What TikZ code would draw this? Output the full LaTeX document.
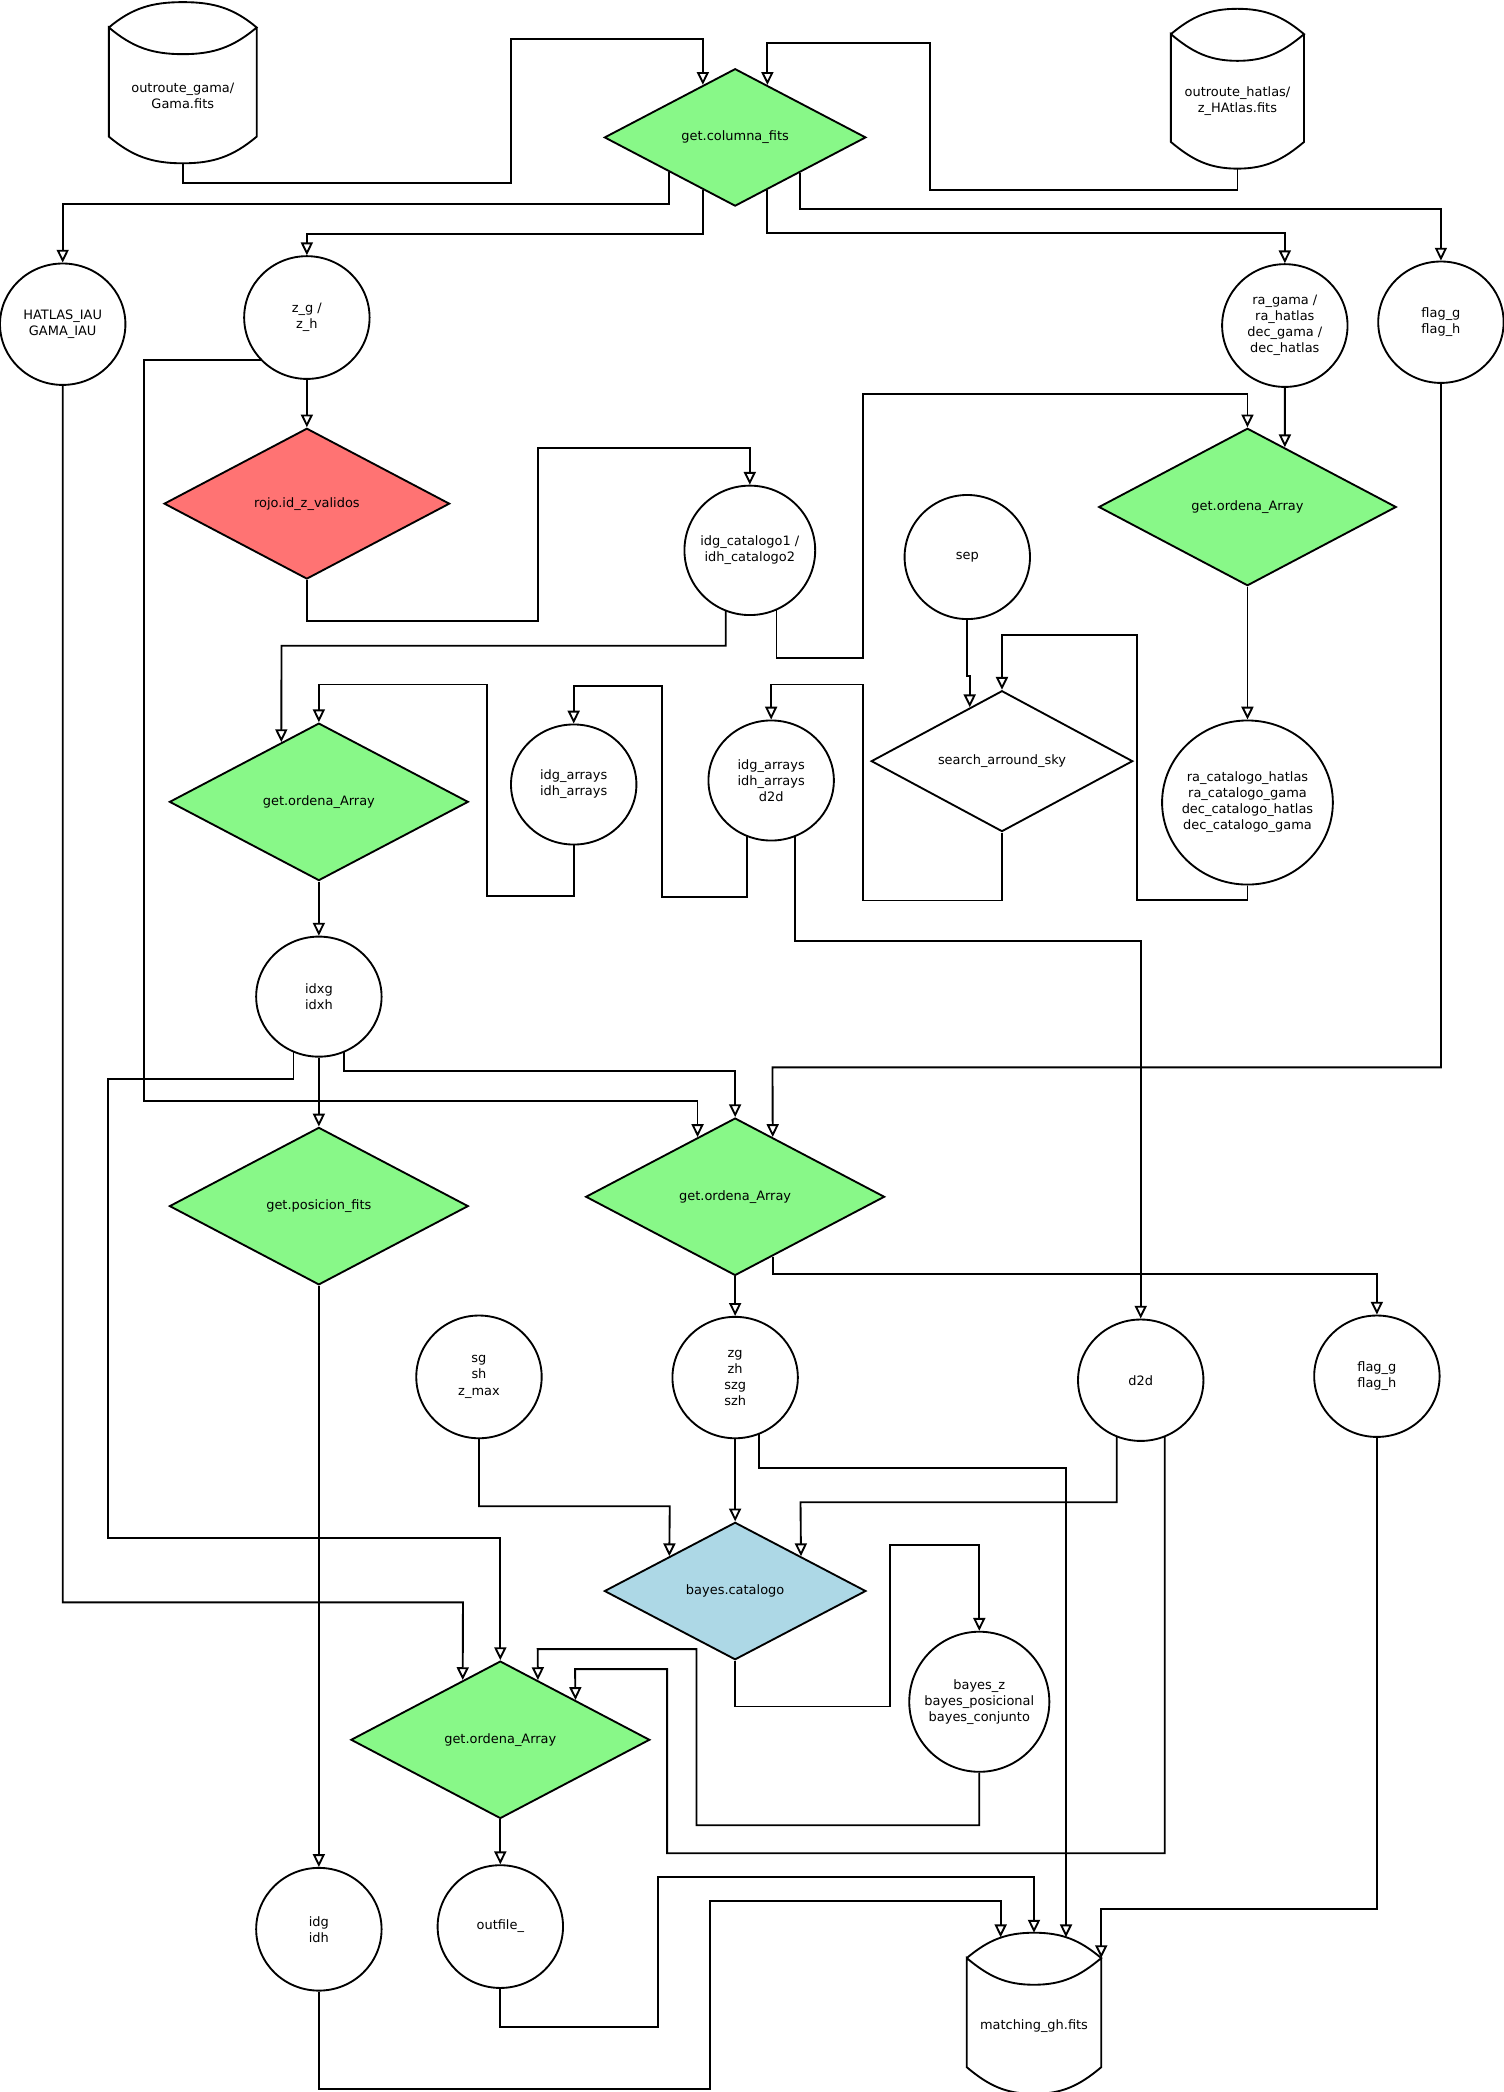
\documentclass[tikz,border=0pt]{standalone}
\usepackage{fontspec}
\setmainfont{DejaVu Sans}
\usetikzlibrary{arrows.meta,calc,shapes.geometric,backgrounds}

\definecolor{fngreen}{RGB}{136,248,136}
\definecolor{fnred}{RGB}{255,115,115}
\definecolor{fnblue}{RGB}{173,216,230}

% outline of a data file drawn round a db node
\newcommand{\dbdraw}[1]{%
  \draw[dbline] ([yshift=10pt]#1.north west) coordinate (#1-tl)
    to[out=40,in=180] ([yshift=19.5pt]#1.north)
    to[out=0,in=140] ([yshift=10pt]#1.north east) coordinate (#1-tr)
    to[out=-140,in=0] (#1.north)
    to[out=180,in=-40] (#1-tl) -- (#1.south west)
    to[out=-40,in=180] ([yshift=-10pt]#1.south)
    to[out=0,in=-140] (#1.south east) -- (#1-tr);}

\begin{document}
\begin{tikzpicture}[
  x=0.5pt, y=-0.5pt,
  every node/.style={font=\fontsize{4.85pt}{6pt}\selectfont, align=center, inner sep=0pt},
  var/.style={draw, ellipse, fill=white, line width=0.7pt, inner xsep=-6pt, minimum width=47pt, minimum height=45.5pt},
  func/.style={draw, diamond, fill=fngreen, line width=0.7pt, minimum width=112pt, minimum height=59pt},
  smallfunc/.style={func, minimum width=98pt, minimum height=51.5pt},
  db/.style={minimum width=50pt, minimum height=30.5pt},
  dbline/.style={line width=0.7pt},
  arr/.style={-{Triangle[open, length=4.8pt, width=4.5pt]}, line width=0.7pt}
]
  \useasboundingbox (0,0) rectangle (1127,1568);

  % data files
  \node[db, minimum width=55pt] (gama) at (137,71.5) {outroute\_gama/\\Gama.fits};
  \node[db, minimum width=49.5pt, minimum height=30pt] (hatlas) at (927.5,76) {outroute\_hatlas/\\z\_HAtlas.fits};
  \node[db] (match) at (775,1518.5) {matching\_gh.fits};
  \dbdraw{gama}
  \dbdraw{hatlas}
  \dbdraw{match}

  % functions
  \node[smallfunc] (col) at (551,103) {get.columna\_fits};
  \node[func, fill=fnred, minimum width=107pt, minimum height=56.5pt] (rojo) at (230,377.5) {rojo.id\_z\_validos};
  \node[func, minimum width=111.5pt] (ordA) at (935,380) {get.ordena\_Array};
  \node[func] (ordB) at (239,601) {get.ordena\_Array};
  \node[smallfunc, fill=white] (sas) at (751,570.5) {search\_arround\_sky};
  \node[func] (pos) at (239,904) {get.posicion\_fits};
  \node[func] (ordC) at (551,897) {get.ordena\_Array};
  \node[smallfunc, fill=fnblue] (bayes) at (551,1192.5) {bayes.catalogo};
  \node[func] (ordD) at (375,1304) {get.ordena\_Array};

  % variables
  \node[var] (iau) at (47,243) {HATLAS\_IAU\\GAMA\_IAU};
  \node[var, minimum height=46pt] (zgh) at (230,238) {z\_g /\\z\_h};
  \node[var, minimum height=46pt] (radec) at (963,244) {ra\_gama /\\ra\_hatlas\\dec\_gama /\\dec\_hatlas};
  \node[var] (flagA) at (1080,241.5) {flag\_g\\flag\_h};
  \node[var, minimum width=49pt, minimum height=48.5pt] (idcat) at (562,412.5) {idg\_catalogo1 /\\idh\_catalogo2};
  \node[var, minimum height=46.5pt] (sep) at (725,417.5) {sep};
  \node[var, minimum height=45pt] (idarr) at (430,588) {idg\_arrays\\idh\_arrays};
  \node[var, minimum height=45pt] (idd2d) at (578,585) {idg\_arrays\\idh\_arrays\\d2d};
  \node[var, minimum width=64pt, minimum height=61.5pt] (racat) at (935,601.5) {ra\_catalogo\_hatlas\\ra\_catalogo\_gama\\dec\_catalogo\_hatlas\\dec\_catalogo\_gama};
  \node[var, minimum height=45pt] (idx) at (239,747) {idxg\\idxh};
  \node[var, minimum height=46pt] (sg) at (359,1032) {sg\\sh\\z\_max};
  \node[var] (zg) at (551,1032.5) {zg\\zh\\szg\\szh};
  \node[var] (d2d) at (855,1034.5) {d2d};
  \node[var] (flagB) at (1032,1031.5) {flag\_g\\flag\_h};
  \node[var, minimum width=52.5pt, minimum height=52.5pt] (bayesout) at (734,1275.5) {bayes\_z\\bayes\_posicional\\bayes\_conjunto};
  \node[var, minimum height=46pt] (idgh) at (239,1446) {idg\\idh};
  \node[var, minimum height=46pt] (outf) at (375,1444) {outfile\_};

  % connectors
  \begin{scope}[on background layer]
    \draw[arr] ([yshift=-10pt]gama.south) -- ++(0,15) -| (383,29) -| ($(col.north)!0.245!(col.west)$);
    \draw[arr] ([yshift=-10pt]hatlas.south) -- ++(0,16) -| (697,32) -| ($(col.north)!0.245!(col.east)$);
    \draw[arr] ($(col.south)!0.5!(col.west)$) -- ++(0,24) -| (iau);
    \draw[arr] ($(col.south)!0.245!(col.west)$) -- ++(0,33) -| (zgh);
    \draw[arr] ($(col.south)!0.245!(col.east)$) -- ++(0,32) -| (radec);
    \draw[arr] ($(col.south)!0.49!(col.east)$) -- ++(0,27) -| (flagA);
    \draw[arr] (zgh) -- (rojo);
    \draw[arr] ($(zgh.center)+(-20,32)$) -| (108,825) -| ($(ordC.north)!0.25!(ordC.west)$);
    \draw[arr] (rojo.south) -- ++(0,31) -| (403,336) -| (idcat);
    \draw[arr] ($(idcat.center)+(-18,0)$) |- (211,484) -- ($(ordB.north)!0.25!(ordB.west)$);
    \draw[arr] ($(idcat.center)+(20,0)$) |- (647,493) |- (935,295) -- (ordA);
    \draw[arr] (radec) -- ($(ordA.north)!0.25!(ordA.east)$);
    \draw[arr] (ordA) -- (racat);
    \draw[arr] (sep.south) -- ++(0,42) -| ($(sas.north)!0.245!(sas.west)$);
    \draw[arr] (racat.south) -- ++(0,11) -| (852,476) -| (sas);
    \draw[arr] (sas.south) -- ++(0,51) -| (647,513) -| (idd2d);
    \draw[arr] ($(idd2d.center)+(-18,0)$) |- (496,672) |- (430,514) -- (idarr);
    \draw[arr] (idarr.south) -- ++(0,38) -| (365,513) -| (ordB);
    \draw[arr] ($(idd2d.center)+(18,0)$) |- (855,705) -- (d2d);
    \draw[arr] (ordB) -- (idx);
    \draw[arr] (flagA.south) |- (579,800) -- ($(ordC.north)!0.25!(ordC.east)$);
    \draw[arr] ($(idx.center)+(19,0)$) |- (551,803) -- (ordC);
    \draw[arr] (idx) -- (pos);
    \draw[arr] ($(idx.center)+(-19,0)$) |- (81,809) |- (375,1153) -- (ordD);
    \draw[arr] (iau.south) |- (347,1201) -- ($(ordD.north)!0.25!(ordD.west)$);
    \draw[arr] (pos) -- (idgh);
    \draw[arr] ($(ordC.south)!0.25!(ordC.east)$) |- (1032,955) -- (flagB);
    \draw[arr] (ordC) -- (zg);
    \draw[arr] (sg.south) |- (502,1129) -- ($(bayes.north)!0.5!(bayes.west)$);
    \draw[arr] (zg) -- (bayes);
    \draw[arr] ($(zg.center)+(18,0)$) |- (799,1100) -- ([xshift=12pt,yshift=17.8pt]match.north);
    \draw[arr] ($(d2d.center)+(-18,0)$) |- (600,1126) -- ($(bayes.north)!0.5!(bayes.east)$);
    \draw[arr] ($(d2d.center)+(18,0)$) |- (500,1389) |- (431,1251) -- ($(ordD.north)!0.5!(ordD.east)$);
    \draw[arr] (bayes.south) |- (667,1279) |- (734,1158) -- (bayesout);
    \draw[arr] (bayesout.south) |- (522,1368) |- (403,1236) -- ($(ordD.north)!0.25!(ordD.east)$);
    \draw[arr] (ordD) -- (outf);
    \draw[arr] (outf.south) |- (493,1519) |- (775,1407) -- ([yshift=19.5pt]match.north);
    \draw[arr] (idgh.south) |- (532,1566) |- (750,1425) -- ([xshift=-12.5pt,yshift=17.8pt]match.north);
    \draw[arr] (flagB.south) |- ($(match-tr)+(0,-37)$) -- (match-tr);
  \end{scope}
\end{tikzpicture}
\end{document}
